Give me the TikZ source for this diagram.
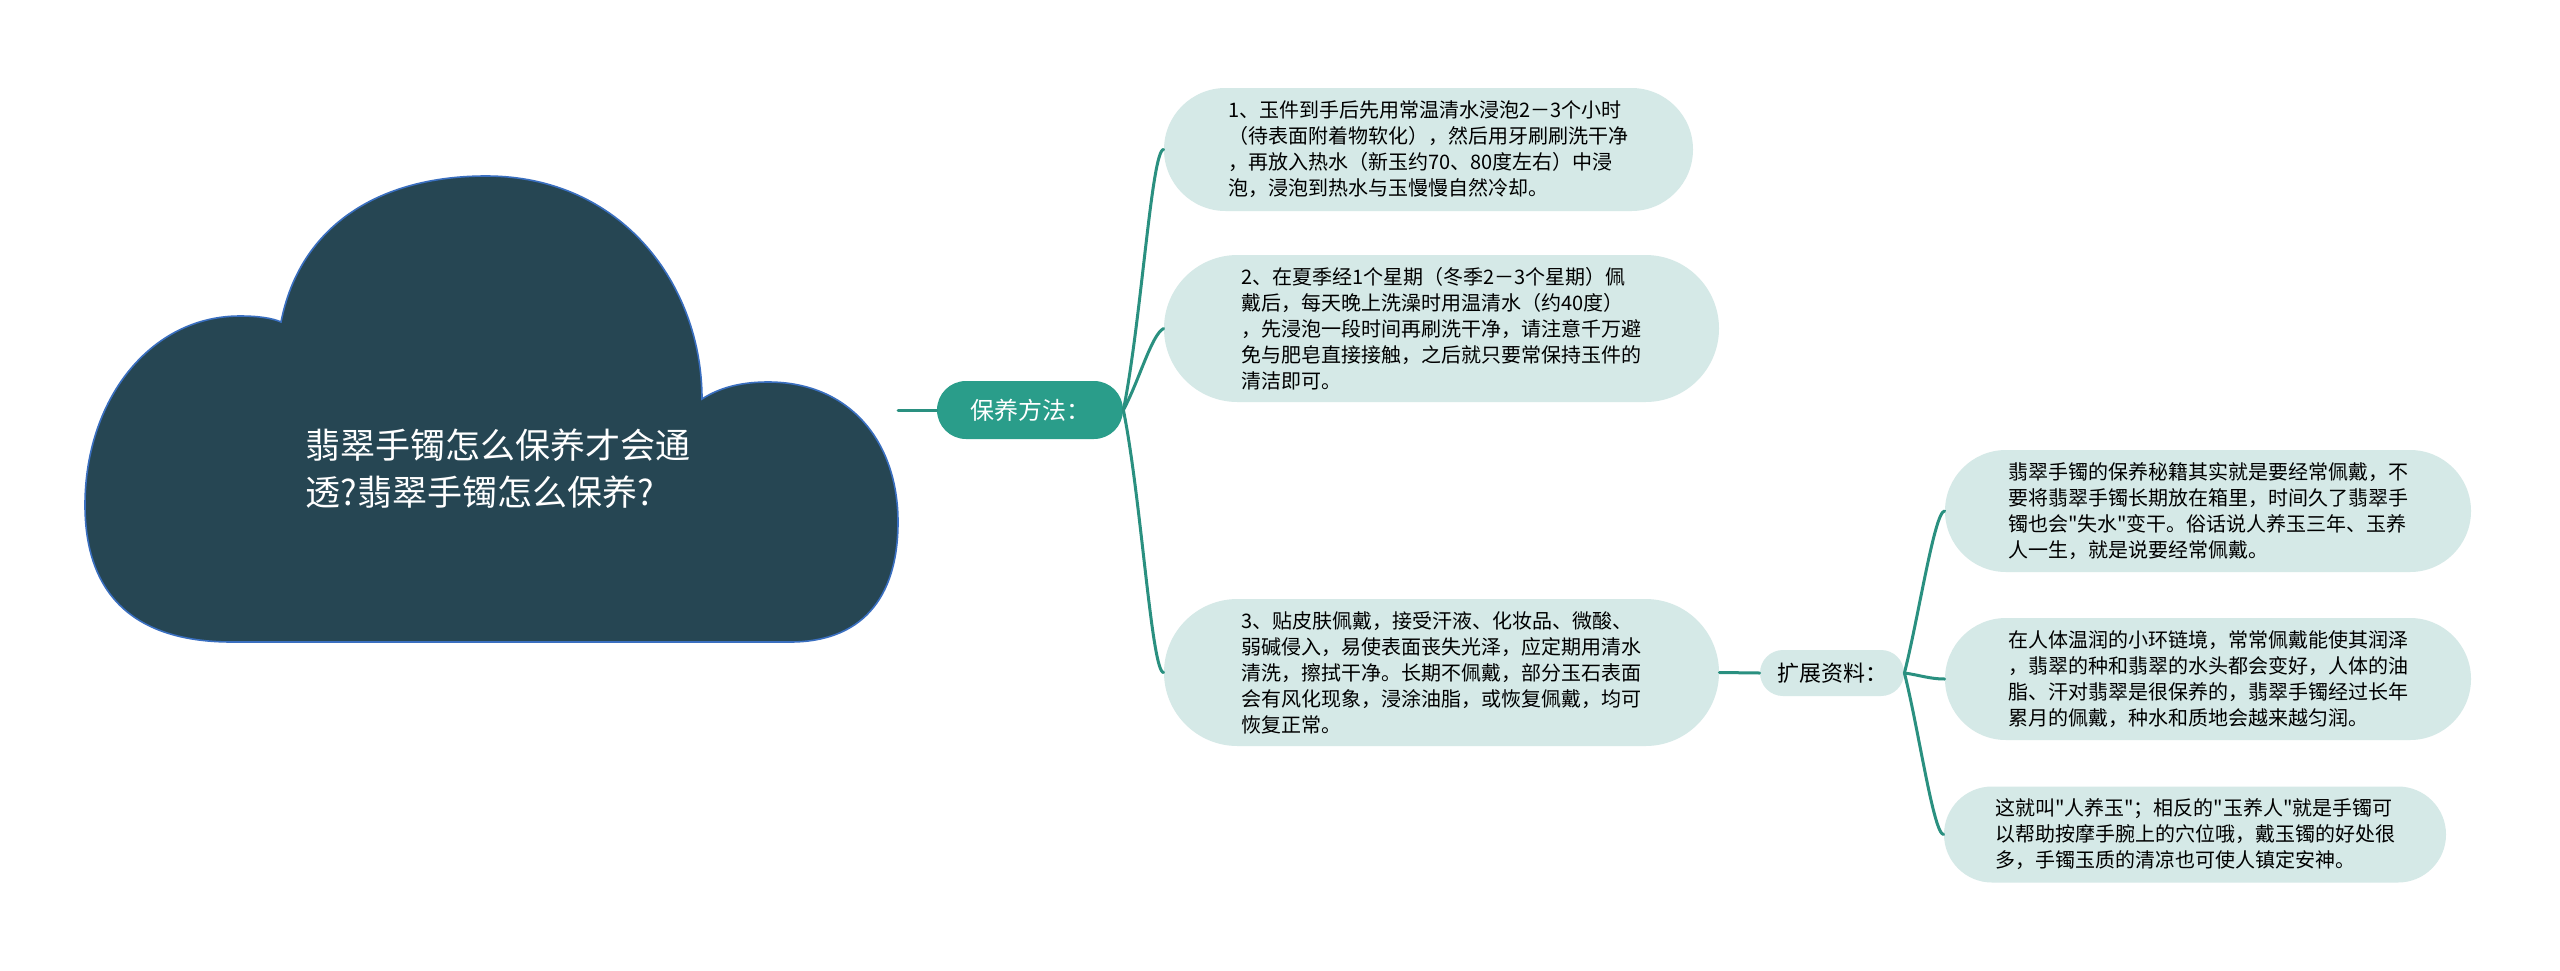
\documentclass[tikz,border=0pt]{standalone}
\usepackage{fontspec}
\setmainfont{Noto Sans CJK SC}[Ligatures=TeXOff]
\usetikzlibrary{shapes.misc}
\definecolor{cloudfill}{HTML}{264653}
\definecolor{cloudedge}{HTML}{3A6FC0}
\definecolor{jade}{HTML}{2A9D8A}
\definecolor{mist}{HTML}{D5E9E7}
\definecolor{branchline}{HTML}{2A9080}

\begin{document}
\begin{tikzpicture}[x=0.5pt,y=-0.5pt,line cap=round,
        topic/.style={rounded rectangle,fill=jade,text=white,inner sep=0pt,
            font=\fontsize{12pt}{14pt}\selectfont},
        tip/.style={rounded rectangle,fill=mist,inner sep=0pt,align=left,
            font=\fontsize{10pt}{13pt}\selectfont},
        branch/.style={draw=branchline,line width=1.5pt}]
            % page
            \fill[white] (0,0) rectangle (2560,970);

            % draw the cloud
            \filldraw[fill=cloudfill,draw=cloudedge,line width=0.8pt]
                (232,642) .. controls (140,642) and (85,600) .. (85,505)
                .. controls (85,400) and (150,316) .. (240,316)
                .. controls (258,316) and (272,318) .. (281,322)
                .. controls (300,225) and (380,176) .. (486,176)
                .. controls (622,176) and (702,285) .. (702,399)
                .. controls (722,386) and (745,382) .. (768,382)
                .. controls (850,382) and (898,442) .. (898,522)
                .. controls (898,600) and (860,642) .. (790,642)
                -- cycle;
            % text in the cloud
            \node[text=white,align=left,font=\fontsize{17.5pt}{23.5pt}\selectfont]
                (title) at (498,469) {翡翠手镯怎么保养才会通\\透?翡翠手镯怎么保养?};
            \coordinate (cloudtip) at (898,410);

            % first branch
            \node[topic,minimum width=93pt,minimum height=29pt] (care) at (1030,410) {保养方法：};
            \draw[branch] (cloudtip) -- (care.west);

            % the three steps
            \node[tip,minimum width=264.5pt,minimum height=61.5pt] (step1) at (1428.5,149.5)
                {1、玉件到手后先用常温清水浸泡2－3个小时\\（待表面附着物软化），然后用牙刷刷洗干净\\，再放入热水（新玉约70、80度左右）中浸\\泡，浸泡到热水与玉慢慢自然冷却。};
            \node[tip,minimum width=277.5pt,minimum height=73.5pt] (step2) at (1441.5,328.5)
                {2、在夏季经1个星期（冬季2－3个星期）佩\\戴后，每天晚上洗澡时用温清水（约40度）\\，先浸泡一段时间再刷洗干净，请注意千万避\\免与肥皂直接接触，之后就只要常保持玉件的\\清洁即可。};
            \node[tip,minimum width=277.5pt,minimum height=73.5pt] (step3) at (1441.5,672.5)
                {3、贴皮肤佩戴，接受汗液、化妆品、微酸、\\弱碱侵入，易使表面丧失光泽，应定期用清水\\清洗，擦拭干净。长期不佩戴，部分玉石表面\\会有风化现象，浸涂油脂，或恢复佩戴，均可\\恢复正常。};

            % curves to the steps
            \draw[branch] (care.east) .. controls +(18,-90) and +(-12,0) .. (step1.west);
            \draw[branch] (care.east) .. controls +(16,-30) and +(-12,6) .. (step2.west);
            \draw[branch] (care.east) .. controls +(18,90) and +(-12,0) .. (step3.west);

            % second branch
            \node[tip,minimum width=72pt,minimum height=23pt,font=\fontsize{11pt}{13pt}\selectfont] (extra) at (1832,673) {扩展资料：};
            \draw[branch] (step3.east) -- (extra.west);

            % the three notes
            \node[tip,minimum width=263pt,minimum height=61pt] (note1) at (2208,511)
                {翡翠手镯的保养秘籍其实就是要经常佩戴，不\\要将翡翠手镯长期放在箱里，时间久了翡翠手\\镯也会"失水"变干。俗话说人养玉三年、玉养\\人一生，就是说要经常佩戴。};
            \node[tip,minimum width=263pt,minimum height=61pt] (note2) at (2208,679)
                {在人体温润的小环链境，常常佩戴能使其润泽\\，翡翠的种和翡翠的水头都会变好，人体的油\\脂、汗对翡翠是很保养的，翡翠手镯经过长年\\累月的佩戴，种水和质地会越来越匀润。};
            \node[tip,minimum width=251pt,minimum height=48pt] (note3) at (2195,834.5)
                {这就叫"人养玉"；相反的"玉养人"就是手镯可\\以帮助按摩手腕上的穴位哦，戴玉镯的好处很\\多，手镯玉质的清凉也可使人镇定安神。};

            % curves to the notes
            \draw[branch] (extra.east) .. controls +(14,-55) and +(-10,0) .. (note1.west);
            \draw[branch] (extra.east) .. controls +(15,2) and +(-15,0) .. (note2.west);
            \draw[branch] (extra.east) .. controls +(14,55) and +(-10,0) .. (note3.west);
        \end{tikzpicture}
\end{document}
